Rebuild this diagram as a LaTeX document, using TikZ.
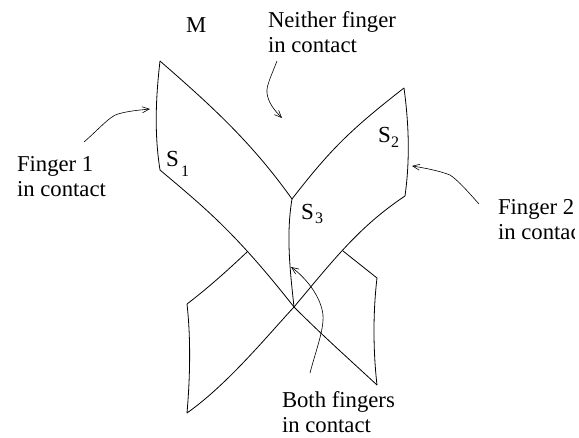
\documentclass[tikz,border=0pt]{standalone}
\usepackage{fontspec}
\setmainfont{Liberation Serif}
\usetikzlibrary{arrows.meta}
\tikzset{
  edge/.style={draw=black,line width=0.8pt,line join=round},
  pointer/.style={draw=black,line width=0.6pt,-{Straight Barb[length=7pt,width=6pt,line width=0.6pt]}},
  lbl/.style={inner sep=0pt,outer sep=0pt,anchor=base west,align=left,font=\fontsize{22.7}{25}\selectfont},
  sym/.style={inner sep=0pt,outer sep=0pt,anchor=base west,font=\fontsize{23}{25}\selectfont},
  sub/.style={inner sep=0pt,outer sep=0pt,anchor=base west,font=\fontsize{16}{18}\selectfont}
}
\begin{document}
\begin{tikzpicture}[x=1pt,y=-1pt]
\useasboundingbox (0,0) rectangle (579,437);
% corners
\coordinate (tl) at (160,61);
\coordinate (ml) at (160,170);
\coordinate (c) at (292,199);
\coordinate (tr) at (404,88);
\coordinate (mr) at (405,196);
\coordinate (x) at (294,307);
\coordinate (ll) at (247,252);
\coordinate (bl) at (187,304);
\coordinate (bbl) at (187,413);
\coordinate (lr) at (343,251);
\coordinate (br) at (377,278);
\coordinate (bbr) at (377,385);
% sheet outlines
\draw[edge] (tl) .. controls (156,96) and (154,132) .. (ml);
\draw[edge] (tl) .. controls (208,103) and (250,140) .. (c);
\draw[edge] (tr) .. controls (350,130) and (330,150) .. (c);
\draw[edge] (tr) .. controls (409,125) and (410,160) .. (mr);
\draw[edge] (ml) .. controls (205,208) and (235,232) .. (x);
\draw[edge] (x) .. controls (322,335) and (350,360) .. (bbr);
\draw[edge] (mr) .. controls (360,226) and (335,258) .. (x);
\draw[edge] (x) .. controls (268,335) and (228,384) .. (bbl);
\draw[edge] (c) .. controls (286,235) and (290,270) .. (x);
\draw[edge] (ll) .. controls (228,270) and (208,288) .. (bl);
\draw[edge] (bl) .. controls (191,340) and (190,378) .. (bbl);
\draw[edge] (lr) -- (br);
\draw[edge] (br) .. controls (373,312) and (373,350) .. (bbr);
% labels
\node[lbl] (m) at (186,32) {M};
\node[lbl] (neither) at (268,52) {Neither finger\\in contact};
\node[lbl] (f1) at (17,196) {Finger 1\\in contact};
\begin{scope}
\clip (0,0) rectangle (574,437);
\node[lbl] (f2) at (498,239) {Finger 2\\in contact};
\end{scope}
\node[lbl] (both) at (282,432) {Both fingers\\in contact};
\node[sym] (s1) at (166,166) {S};
\node[sub] (s1i) at (181,176) {1};
\node[sym] (s2) at (378,142) {S};
\node[sub] (s2i) at (391,147) {2};
\node[sym] (s3) at (301,219) {S};
\node[sub] (s3i) at (315,223) {3};
% pointers
\coordinate (p1s) at (84,142);
\coordinate (p1e) at (150,109);
\coordinate (p2s) at (479,204);
\coordinate (p2e) at (412,166);
\coordinate (p3s) at (277,61);
\coordinate (p3e) at (282,118);
\coordinate (p4s) at (310,373);
\coordinate (p4e) at (291,267);
\draw[pointer] (p1s) .. controls (100,128) and (110,116) .. (118,114) .. controls (128,111) and (140,110) .. (p1e);
\draw[pointer] (p2s) .. controls (470,194) and (458,180) .. (450,175) .. controls (440,171) and (425,168) .. (p2e);
\draw[pointer] (p3s) .. controls (272,74) and (266,86) .. (267,93) .. controls (268,102) and (274,110) .. (p3e);
\draw[pointer] (p4s) .. controls (316,350) and (324,330) .. (323,315) .. controls (321,296) and (305,277) .. (p4e);
\end{tikzpicture}
\end{document}
